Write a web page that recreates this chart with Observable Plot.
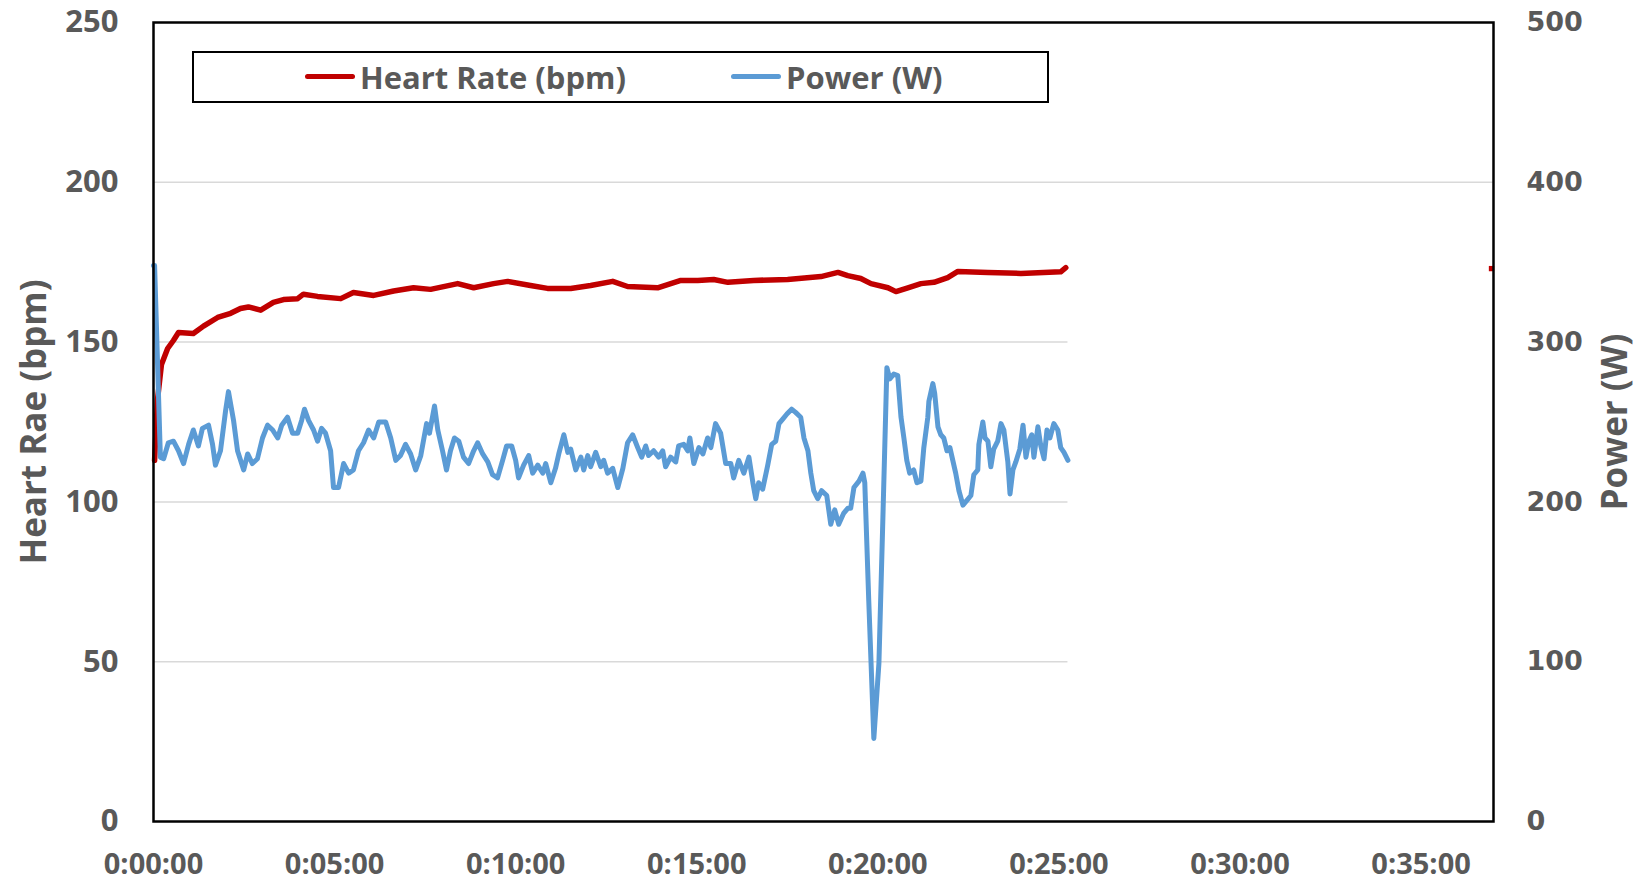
<!DOCTYPE html>
<html>
<head>
<meta charset="utf-8">
<script src="https://cdn.jsdelivr.net/npm/d3@7"></script>
<script src="https://cdn.jsdelivr.net/npm/@observablehq/plot@0.6"></script>
<style>
  body { margin: 0; background: #fff; }
  #wrap { position: relative; width: 1637px; height: 885px; font-family: "Open Sans", sans-serif; }
  #legend { position: absolute; left: 192px; top: 51px; width: 857px; height: 52px; border: 2.5px solid #000; box-sizing: border-box; background: #fff; }
  .item { position: absolute; top: 0; height: 47px; display: flex; align-items: center; color: #595959; font-weight: 700; font-size: 31px; white-space: nowrap; }
  .swatch { width: 50px; height: 5px; border-radius: 3px; margin-right: 5px; }
</style>
</head>
<body>
<div id="wrap">
  <div id="chart"></div>
  <div id="legend"></div>
</div>
<script>
// ---- data (time in minutes) ----
const powerTime = [0.00,0.03,0.19,0.28,0.41,0.55,0.69,0.83,0.97,1.10,1.24,1.35,1.52,1.63,1.71,1.85,1.99,2.07,2.21,2.32,2.49,2.60,2.73,2.87,3.01,3.15,3.29,3.43,3.54,3.70,3.84,3.98,4.09,4.17,4.28,4.42,4.53,4.64,4.75,4.89,4.97,5.11,5.25,5.39,5.52,5.66,5.80,5.94,6.08,6.22,6.41,6.55,6.69,6.82,6.96,7.10,7.24,7.38,7.54,7.62,7.76,7.85,7.98,8.09,8.20,8.31,8.43,8.56,8.70,8.84,8.95,9.09,9.23,9.36,9.50,9.64,9.75,9.89,10.00,10.08,10.22,10.36,10.47,10.61,10.75,10.83,10.97,11.10,11.19,11.33,11.44,11.52,11.66,11.80,11.88,11.99,12.07,12.21,12.35,12.43,12.54,12.68,12.82,12.96,13.09,13.23,13.37,13.48,13.59,13.67,13.81,13.95,14.06,14.14,14.28,14.42,14.50,14.64,14.75,14.81,14.92,15.06,15.17,15.30,15.39,15.52,15.66,15.80,15.94,16.02,16.16,16.30,16.44,16.55,16.63,16.71,16.82,16.96,17.07,17.18,17.27,17.38,17.49,17.62,17.73,17.87,17.96,18.07,18.15,18.23,18.34,18.45,18.59,18.70,18.81,18.92,19.06,19.17,19.25,19.34,19.48,19.59,19.64,19.75,19.89,20.03,20.14,20.25,20.33,20.44,20.55,20.64,20.72,20.80,20.88,20.99,21.08,21.19,21.27,21.38,21.41,21.52,21.57,21.66,21.74,21.82,21.91,21.99,22.07,22.15,22.24,22.35,22.46,22.57,22.65,22.76,22.79,22.90,22.96,23.04,23.12,23.20,23.31,23.40,23.48,23.59,23.65,23.73,23.81,23.92,24.01,24.09,24.17,24.25,24.31,24.42,24.50,24.59,24.67,24.75,24.86,24.97,25.05,25.14,25.25];
const powerW = [348,348,228,227,237,238,232,224,236,245,235,246,248,236,223,232,257,269,251,232,220,230,224,227,240,248,245,240,248,253,243,243,251,258,251,245,238,246,243,232,209,209,224,218,220,232,237,245,240,250,250,240,226,229,236,230,220,229,249,243,260,245,232,220,232,240,238,228,224,232,237,230,225,217,215,226,235,235,226,215,223,229,218,223,218,224,212,221,230,242,231,233,220,228,220,229,222,231,222,226,218,221,209,221,237,242,234,228,235,229,232,228,232,222,228,225,235,236,232,240,224,234,230,240,234,249,243,224,224,215,226,218,228,212,202,212,208,223,236,238,249,252,255,258,256,253,240,232,218,207,202,207,204,186,195,186,193,196,196,209,213,218,212,138,52,99,190,284,277,280,279,253,240,226,218,220,212,213,234,253,263,274,268,247,242,240,232,234,226,218,207,198,201,204,217,220,236,250,240,238,222,233,238,249,245,225,205,220,225,233,248,228,238,242,228,247,235,227,245,240,249,245,234,231,226];

const hrTime = [0.03,0.11,0.22,0.39,0.55,0.69,1.10,1.38,1.77,2.13,2.40,2.62,2.96,3.31,3.59,3.98,4.14,4.53,5.17,5.52,6.08,6.63,7.18,7.65,8.40,8.84,9.39,9.78,10.41,10.88,11.52,12.07,12.68,13.09,13.92,14.56,15.03,15.47,15.86,16.57,17.51,18.43,18.90,19.17,19.53,19.81,20.28,20.50,20.83,21.19,21.55,21.93,22.21,23.04,23.95,25.05,25.19];
const hrBpm = [113,132,143,148,150.5,153,152.7,155,157.7,159,160.5,161,160,162.4,163.3,163.6,165,164.3,163.6,165.5,164.6,166,167,166.5,168.3,167,168.3,169,167.7,166.8,166.8,167.7,169,167.4,167,169.3,169.3,169.6,168.7,169.3,169.6,170.5,171.8,170.8,169.9,168.3,167,165.8,167,168.3,168.7,170.2,172.1,171.8,171.5,172,173.3];

// stray last heart-rate sample at the right edge
const hrStrayTime = [37];
const hrStrayBpm = [173];

const xTicks = [0, 5, 10, 15, 20, 25, 30, 35];
const hrTicks = [0, 50, 100, 150, 200, 250];
const fullGrid = [200];
const shortGrid = [50, 100, 150];
const seriesNames = ["Heart Rate (bpm)", "Power (W)"];
const seriesColors = ["#C00000", "#5B9BD5"];

const power = powerTime.map((t, i) => ({t, w: powerW[i]}));
const hr = hrTime.map((t, i) => ({t, bpm: hrBpm[i]}));
const hrStray = hrStrayTime.map((t, i) => ({t, bpm: hrStrayBpm[i]}));
const dataEnd = powerTime[powerTime.length - 1];

const fmtTime = m => `0:${String(m).padStart(2, "0")}:00`;

const chart = Plot.plot({
  width: 1637,
  height: 885,
  marginLeft: 153,
  marginRight: 144,
  marginTop: 22,
  marginBottom: 64,
  style: {fontFamily: "'Open Sans', sans-serif", fontSize: "31px", fontWeight: 700, color: "#595959", background: "#fff"},
  x: {domain: [0, 37]},
  y: {domain: [0, 250]},
  marks: [
    Plot.ruleY(fullGrid, {stroke: "#d9d9d9", strokeWidth: 1.5}),
    Plot.ruleY(shortGrid, {x1: 0, x2: dataEnd, stroke: "#d9d9d9", strokeWidth: 1.5}),
    Plot.axisX({ticks: xTicks, tickFormat: fmtTime, tickSize: 0, tickPadding: 32, label: null, fontSize: 29}),
    Plot.axisY({ticks: hrTicks, tickSize: 0, tickPadding: 35, label: null, anchor: "left"}),
    Plot.axisY({ticks: hrTicks, tickFormat: d => d * 2, tickSize: 0, tickPadding: 33, label: null, anchor: "right",
                fontFamily: "'DejaVu Sans', sans-serif", fontSize: 27}),
    Plot.text(["Heart Rae (bpm)"], {frameAnchor: "left", dx: -119, rotate: -90, textAnchor: "middle", lineAnchor: "middle", fontSize: 35, fontWeight: 700, fill: "#595959"}),
    Plot.text(["Power (W)"], {frameAnchor: "right", dx: 122, rotate: -90, textAnchor: "middle", lineAnchor: "middle", fontSize: 35, fontWeight: 700, fill: "#595959"}),
    Plot.line(hr, {x: "t", y: "bpm", stroke: seriesColors[0], strokeWidth: 5.5, strokeLinejoin: "round"}),
    Plot.line(power, {x: "t", y: d => d.w / 2, stroke: seriesColors[1], strokeWidth: 5, strokeLinejoin: "round"}),
    Plot.dot(hrStray, {x: "t", y: "bpm", symbol: "square", r: 3, fill: seriesColors[0], dx: -2}),
    Plot.frame({stroke: "#000", strokeWidth: 2.5})
  ]
});
document.getElementById("chart").appendChild(chart);

// legend
const legend = document.getElementById("legend");
const itemLefts = [111, 537];
seriesNames.forEach((name, i) => {
  const it = document.createElement("div");
  it.className = "item";
  it.style.left = itemLefts[i] + "px";
  it.innerHTML = `<span class="swatch" style="background:${seriesColors[i]}"></span>${name}`;
  legend.appendChild(it);
});
</script>
</body>
</html>
